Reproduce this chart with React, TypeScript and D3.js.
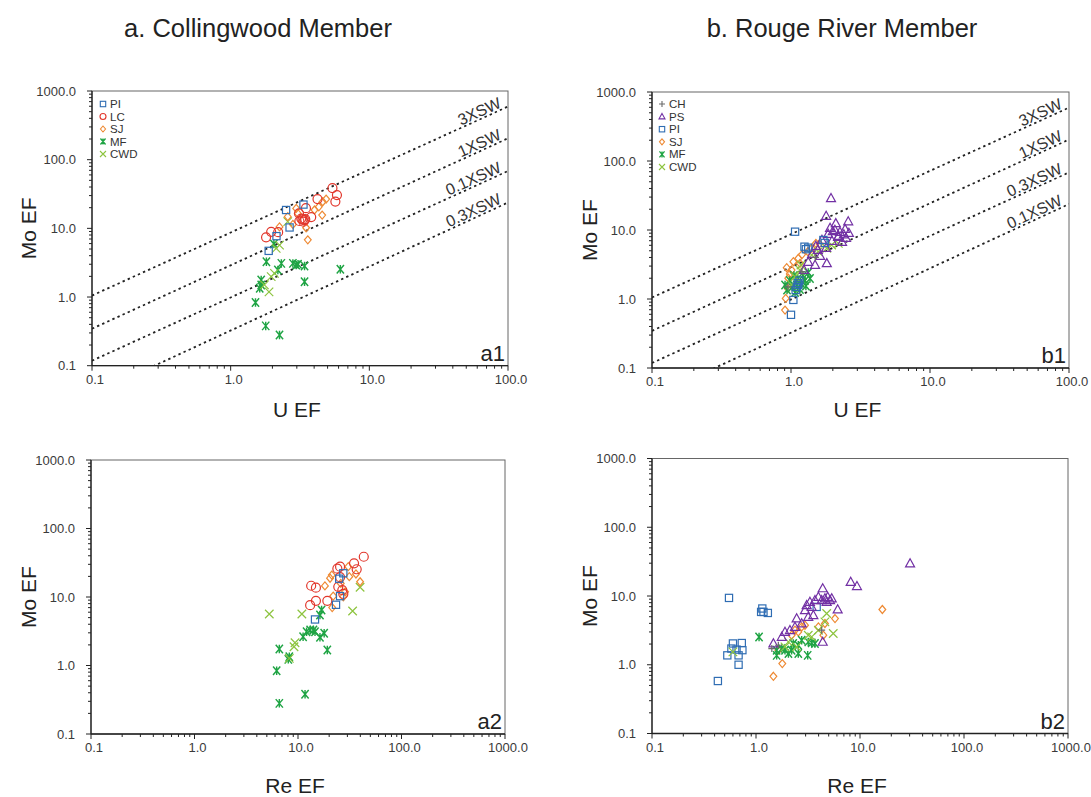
import React from "react";
import * as d3 from "d3";

type Pt = [number, number];

// ---------- text / ticks ----------
const panelTitles = ["a. Collingwood Member", "b. Rouge River Member"];
const uTicks = [0.1, 1, 10, 100];
const reTicks = [0.1, 1, 10, 100, 1000];
const moTicks = [0.1, 1, 10, 100, 1000];

const collingwoodGroups = ["PI", "LC", "SJ", "MF", "CWD"];
const rougeGroups = ["CH", "PS", "PI", "SJ", "MF", "CWD"];

// ---------- seawater reference lines (Mo EF at U EF = 0.1 and U EF = 100) ----------
const swLabelsA = ["3XSW", "1XSW", "0.1XSW", "0.3XSW"];
const swLabelsB = ["3XSW", "1XSW", "0.3XSW", "0.1XSW"];
const swMoAtULow = [1.05, 0.345, 0.118, 0.038];
const swMoAtUHigh = [595, 205, 68.5, 23.8];

// ---------- a1: Collingwood, U EF vs Mo EF ----------
const a1PI: Pt[] = [[2.51, 18.5], [3.35, 22.2], [2.66, 10.3], [2.14, 7.7], [1.88, 4.7]];
const a1LC: Pt[] = [[5.42, 38.6], [5.84, 30.5], [5.69, 24.5], [4.23, 26.7], [3.49, 19.7], [3.11, 16.5], [3.23, 13.9], [3.41, 13.2], [3.81, 14.6], [3.13, 12.8], [3.35, 12.5], [1.96, 8.9], [2.2, 8.8], [1.8, 7.4], [3.45, 13.6], [3.3, 13.5]];
const a1SJ: Pt[] = [[4.88, 26.7], [4.61, 24.4], [4.32, 20.6], [4.02, 18.5], [4.57, 15.6], [3.6, 6.8], [3.5, 10.2], [2.97, 19.5], [3.05, 16.5], [2.58, 14.8], [2.81, 11.4], [2.25, 10.5]];
const a1MF: Pt[] = [[6.18, 2.53], [3.41, 1.67], [3.41, 2.83], [2.97, 2.92], [2.81, 3.09], [3.06, 3.0], [2.32, 3.09], [2.19, 2.47], [1.81, 3.27], [1.66, 1.77], [1.66, 1.5], [1.62, 1.34], [1.51, 0.83], [1.79, 0.38], [2.25, 0.28], [2.05, 5.9]];
const a1CWD: Pt[] = [[1.89, 1.19], [1.96, 1.98], [2.07, 2.21], [2.25, 5.71], [2.13, 5.12], [2.58, 12.5], [1.75, 1.5]];

// ---------- a2: Collingwood, Re EF vs Mo EF ----------
const a2PI: Pt[] = [[14.6, 4.7], [23.3, 7.7], [25.5, 10.3], [25, 18.5], [27.4, 22.2]];
const a2LC: Pt[] = [[43.2, 38.7], [34.8, 31], [36.9, 25.4], [25.5, 27.7], [24, 25.9], [24.5, 14.1], [26.8, 12.6], [27.4, 11.1], [13.4, 14.6], [14.9, 13.7], [19.2, 8.8], [14.9, 8.8], [13.1, 7.6], [25.5, 19.5]];
const a2SJ: Pt[] = [[30.6, 27.7], [36.3, 21.7], [31.3, 19.8], [39.8, 16.7], [21.2, 20.9], [20.4, 18.8], [18.2, 14.5], [21.9, 10.3], [21.4, 7.0], [28.5, 11.9], [27.4, 10.1], [25.9, 15.8]];
const a2MF: Pt[] = [[6.6, 1.74], [6.22, 0.84], [6.6, 0.28], [11.7, 0.38], [8.24, 1.34], [8.06, 1.23], [19.2, 1.68], [16.3, 2.58], [17.9, 2.95], [14.6, 3.11], [13.1, 3.3], [12.1, 3.11], [11.2, 2.63], [16.9, 6.46], [16.3, 5.46], [14.1, 3.3]];
const a2CWD: Pt[] = [[5.28, 5.65], [10.9, 5.65], [33.7, 6.25], [39.8, 13.9], [9.36, 2.15], [9.15, 1.88], [8.24, 1.27]];

// ---------- b1: Rouge River, U EF vs Mo EF ----------
const b1CH: Pt[] = [[1.2, 2.5], [1.5, 4.0], [0.95, 1.5]];
const b1PS: Pt[] = [[1.94, 28.8], [1.79, 16], [2.1, 12.5], [2.58, 13.3], [1.81, 3.29], [1.91, 10.7], [2.07, 10], [2.25, 9.35], [2.45, 10.3], [2.61, 9.05], [1.85, 8.75], [2.18, 7.92], [2.49, 7.66], [1.67, 7.16], [1.97, 6.93], [2.33, 6.7], [1.51, 5.86], [1.79, 5.48], [1.42, 4.49], [1.62, 4.2], [1.33, 3.44], [1.49, 3.11], [1.24, 2.63], [1.56, 5.13], [2.2, 8.2], [2.4, 8.6], [2.0, 9.6]];
const b1PI: Pt[] = [[1.07, 9.45], [1.25, 5.73], [1.33, 5.54], [1.28, 5.27], [1.04, 0.97], [1.0, 0.59], [1.71, 7.16], [1.75, 6.5], [1.1, 1.5], [1.12, 1.7], [1.15, 1.85], [1.08, 1.35], [1.13, 1.6]];
const b1SJ: Pt[] = [[0.906, 0.69], [0.916, 1.02], [0.947, 1.43], [0.956, 2.0], [0.931, 2.84], [1.04, 3.47], [1.13, 3.89], [1.51, 6.41], [1.01, 2.63], [1.16, 3.29], [1.41, 5.43], [1.32, 4.85], [1.2, 4.4], [1.6, 6.3], [0.98, 2.3]];
const b1MF: Pt[] = [[0.936, 1.35], [1.02, 1.49], [1.1, 1.6], [1.18, 1.68], [1.26, 1.85], [1.07, 1.24], [1.16, 1.37], [0.98, 1.85], [1.12, 1.98], [1.22, 2.19], [1.33, 2.42], [0.906, 1.6], [1.37, 1.98], [1.05, 2.19], [1.28, 1.54]];
const b1CWD: Pt[] = [[1.41, 4.34], [1.57, 4.85], [1.96, 6.06], [2.19, 6.4], [1.16, 2.63], [1.07, 2.1], [1.01, 1.6], [1.81, 5.43], [1.18, 3.11]];

// ---------- b2: Rouge River, Re EF vs Mo EF ----------
const b2CH: Pt[] = [[1.42, 1.72], [4.28, 3.18], [1.64, 1.92]];
const b2PS: Pt[] = [[30.3, 29.7], [8.14, 16], [9.35, 13.9], [6.1, 6.36], [4.38, 12.9], [4.38, 2.15], [3.98, 9.7], [4.6, 9.2], [5.15, 8.69], [4.28, 8.69], [4.78, 8.2], [3.69, 8.69], [3.07, 7.35], [3.3, 8.2], [2.96, 6.21], [2.46, 4.7], [3.18, 4.96], [3.56, 5.25], [1.9, 3.0], [1.77, 2.54], [1.47, 2.04], [2.37, 3.55], [2.75, 3.98], [2.12, 3.18], [3.43, 6.94], [4.89, 9.7], [5.35, 9.2]];
const b2PI: Pt[] = [[0.55, 9.38], [1.15, 6.58], [1.18, 5.87], [1.3, 5.67], [1.12, 5.87], [0.43, 0.58], [0.68, 1.0], [0.53, 1.37], [0.6, 2.04], [0.73, 2.07], [0.58, 1.72], [0.65, 1.66], [0.74, 1.63], [0.68, 1.37], [3.83, 6.94]];
const b2SJ: Pt[] = [[16.4, 6.36], [1.47, 0.68], [1.79, 1.04], [5.75, 4.7], [4.44, 2.69], [2.37, 3.18], [2.75, 3.55], [2.55, 3.0], [2.96, 3.76], [3.98, 3.55], [4.6, 3.98], [2.2, 2.69], [1.64, 1.63]];
const b2MF: Pt[] = [[1.07, 2.54], [1.58, 1.37], [2.05, 1.46], [2.55, 1.46], [3.14, 1.37], [3.43, 2.08], [3.18, 2.15], [2.28, 2.04], [1.9, 1.63], [1.77, 1.72], [2.55, 1.92], [1.58, 1.63], [2.75, 2.27], [2.2, 1.63], [3.69, 2.04]];
const b2CWD: Pt[] = [[5.53, 2.85], [4.78, 5.56], [4.6, 4.2], [3.98, 3.18], [3.18, 2.69], [2.46, 1.82], [3.43, 2.54], [1.9, 1.82], [2.05, 2.15], [0.6, 1.54]];

// ---------- styles ----------
const COLORS: Record<string, string> = {
  PI: "#2f6db3",
  LC: "#e2372c",
  SJ: "#ee8a34",
  MF: "#1fa444",
  CWD: "#8dc43f",
  PS: "#7230a4",
  CH: "#6a6a6a",
};
const SHAPES: Record<string, string> = {
  PI: "square",
  LC: "circle",
  SJ: "diamond",
  MF: "star",
  CWD: "x",
  PS: "triangle",
  CH: "plus",
};
const FONT = "'Liberation Sans', Arial, Helvetica, sans-serif";

function Marker({ shape, x, y, s, color, sw }: { shape: string; x: number; y: number; s: number; color: string; sw: number }) {
  const h = s / 2;
  const common = { fill: "none", stroke: color, strokeWidth: sw };
  switch (shape) {
    case "square":
      return <rect x={x - h * 0.9} y={y - h * 0.9} width={s * 0.9} height={s * 0.9} {...common} />;
    case "circle":
      return <circle cx={x} cy={y} r={h} {...common} />;
    case "diamond":
      return <path d={`M${x},${y - h}L${x + h * 0.85},${y}L${x},${y + h}L${x - h * 0.85},${y}Z`} {...common} />;
    case "triangle":
      return <path d={`M${x},${y - h * 1.05}L${x + h},${y + h * 0.75}L${x - h},${y + h * 0.75}Z`} {...common} />;
    case "x":
      return <path d={`M${x - h},${y - h}L${x + h},${y + h}M${x + h},${y - h}L${x - h},${y + h}`} {...common} />;
    case "star":
      return <path d={`M${x - h * 0.85},${y - h}L${x + h * 0.85},${y + h}M${x + h * 0.85},${y - h}L${x - h * 0.85},${y + h}M${x},${y - h}L${x},${y + h}`} {...common} strokeWidth={sw * 1.2} />;
    case "plus":
      return <path d={`M${x - h},${y}L${x + h},${y}M${x},${y - h}L${x},${y + h}`} {...common} />;
    default:
      return null;
  }
}

const MARKER_SIZE: Record<string, number> = { square: 8, circle: 9, diamond: 8, triangle: 9, x: 8.5, star: 8.5, plus: 7 };

type Series = { name: string; pts: Pt[] };
type PanelCfg = {
  id: string;
  tag: string;
  xDomain: [number, number];
  xTicks: number[];
  xRange: [number, number];
  yRange: [number, number];
  series: Series[];
  swLabels?: string[];
  legend?: { names: string[]; x: number; y0: number; dy: number };
  xTitle: string;
  xTitleY: number;
  yTitleX: number;
};

function textWidth16(s: string) {
  let w = 0;
  for (const c of s) {
    if (c === ".") w += 4.45;
    else if (/[0-9]/.test(c)) w += 8.9;
    else if (c === "W") w += 15.1;
    else w += 10.7;
  }
  return w;
}

function minorTicks(dom: [number, number]) {
  const out: number[] = [];
  const lo = Math.round(Math.log10(dom[0]));
  const hi = Math.round(Math.log10(dom[1]));
  for (let e = lo; e < hi; e++) {
    for (let k = 2; k <= 9; k++) out.push(k * Math.pow(10, e));
  }
  return out;
}

function Panel({ cfg }: { cfg: PanelCfg }) {
  const x = d3.scaleLog().domain(cfg.xDomain).range(cfg.xRange);
  const y = d3.scaleLog().domain([0.1, 1000]).range(cfg.yRange);
  const [l, r] = cfg.xRange;
  const [b, t] = cfg.yRange;
  const fmt = d3.format(".1f");
  const xMinor = minorTicks(cfg.xDomain);
  const yMinor = minorTicks([0.1, 1000]);
  const line = d3.line<Pt>().x((d) => x(d[0])).y((d) => y(d[1]));
  const clipId = `clip-${cfg.id}`;

  const swEls: React.ReactNode[] = [];
  if (cfg.swLabels) {
    cfg.swLabels.forEach((lab, i) => {
      const p0: Pt = [0.1, swMoAtULow[i]];
      const p1: Pt = [100, swMoAtUHigh[i]];
      const slope = (Math.log10(p1[1]) - Math.log10(p0[1])) / 3;
      const ax = r - 5;
      const au = x.invert(ax);
      const amo = Math.pow(10, Math.log10(p0[1]) + (Math.log10(au) + 1) * slope);
      const ay = y(amo);
      const ang = (Math.atan2(y(p1[1]) - y(p0[1]), x(p1[0]) - x(p0[0])) * 180) / Math.PI;
      const w = textWidth16(lab);
      swEls.push(
        <g key={`sw${i}`}>
          <path d={line([p0, p1]) || ""} fill="none" stroke="#222" strokeWidth={1.8} strokeDasharray="2.4 3.2" clipPath={`url(#${clipId})`} />
          <g transform={`translate(${ax},${ay}) rotate(${ang})`}>
            <rect x={-w - 2} y={-14} width={w + 4} height={13} fill="#fff" />
            <text x={0} y={-2} textAnchor="end" fontSize={16} fontFamily={FONT} fill="#333">
              {lab}
            </text>
          </g>
        </g>
      );
    });
  }

  return (
    <g>
      <defs>
        <clipPath id={clipId}>
          <rect x={l} y={t} width={r - l} height={b - t} />
        </clipPath>
      </defs>
      <rect x={l} y={t} width={r - l} height={b - t} fill="#fff" stroke="#666" strokeWidth={1} />
      {swEls}
      {/* axes */}
      <line x1={l} x2={r} y1={b} y2={b} stroke="#222" strokeWidth={1.3} />
      <line x1={l} x2={l} y1={b} y2={t} stroke="#222" strokeWidth={1.3} />
      {cfg.xTicks.map((v) => (
        <line key={`xM${v}`} x1={x(v)} x2={x(v)} y1={b} y2={b + 5} stroke="#222" strokeWidth={1} />
      ))}
      {xMinor.map((v, i) => (
        <line key={`xm${i}`} x1={x(v)} x2={x(v)} y1={b} y2={b + 3} stroke="#222" strokeWidth={1} />
      ))}
      {moTicks.map((v) => (
        <line key={`yM${v}`} x1={l - 5} x2={l} y1={y(v)} y2={y(v)} stroke="#222" strokeWidth={1} />
      ))}
      {yMinor.map((v, i) => (
        <line key={`ym${i}`} x1={l - 3} x2={l} y1={y(v)} y2={y(v)} stroke="#222" strokeWidth={1} />
      ))}
      {cfg.xTicks.map((v) => (
        <text key={`xl${v}`} x={x(v) + 3} y={b + 18} textAnchor="middle" fontSize={13} fontFamily={FONT} fill="#3a3a3a">
          {fmt(v)}
        </text>
      ))}
      {moTicks.map((v) => (
        <text key={`yl${v}`} x={l - 16} y={y(v) + 4.5} textAnchor="end" fontSize={13} fontFamily={FONT} fill="#3a3a3a">
          {fmt(v)}
        </text>
      ))}
      {/* data */}
      <g clipPath={`url(#${clipId})`}>
        {cfg.series.map((s) =>
          s.pts.map((p, i) => (
            <Marker key={`${s.name}${i}`} shape={SHAPES[s.name]} x={x(p[0])} y={y(p[1])} s={MARKER_SIZE[SHAPES[s.name]]} color={COLORS[s.name]} sw={1.2} />
          ))
        )}
      </g>
      {/* legend */}
      {cfg.legend &&
        cfg.legend.names.map((n, i) => {
          const ly = cfg.legend!.y0 + i * cfg.legend!.dy;
          return (
            <g key={`lg${n}`}>
              <Marker shape={SHAPES[n]} x={cfg.legend!.x} y={ly} s={6} color={COLORS[n]} sw={1.1} />
              <text x={cfg.legend!.x + 7} y={ly + 4} fontSize={11.5} fontFamily={FONT} fill="#333">
                {n}
              </text>
            </g>
          );
        })}
      <text x={r - 3} y={b - 5} textAnchor="end" fontSize={22} fontFamily={FONT} fill="#222">
        {cfg.tag}
      </text>
      <text x={(l + r) / 2 - 3} y={cfg.xTitleY} textAnchor="middle" fontSize={21} fontFamily={FONT} fill="#222">
        {cfg.xTitle}
      </text>
      <text transform={`translate(${cfg.yTitleX},${(t + b) / 2}) rotate(-90)`} textAnchor="middle" fontSize={21} fontFamily={FONT} fill="#222">
        Mo EF
      </text>
    </g>
  );
}

const panels: PanelCfg[] = [
  {
    id: "a1",
    tag: "a1",
    xDomain: [0.1, 100],
    xTicks: uTicks,
    xRange: [92, 508],
    yRange: [365.7, 91],
    series: [
      { name: "MF", pts: a1MF },
      { name: "CWD", pts: a1CWD },
      { name: "SJ", pts: a1SJ },
      { name: "LC", pts: a1LC },
      { name: "PI", pts: a1PI },
    ],
    swLabels: swLabelsA,
    legend: { names: collingwoodGroups, x: 103, y0: 104, dy: 12.5 },
    xTitle: "U EF",
    xTitleY: 417,
    yTitleX: 36,
  },
  {
    id: "b1",
    tag: "b1",
    xDomain: [0.1, 100],
    xTicks: uTicks,
    xRange: [652, 1069],
    yRange: [368, 92],
    series: [
      { name: "SJ", pts: b1SJ },
      { name: "MF", pts: b1MF },
      { name: "CWD", pts: b1CWD },
      { name: "PS", pts: b1PS },
      { name: "PI", pts: b1PI },
      { name: "CH", pts: b1CH },
    ],
    swLabels: swLabelsB,
    legend: { names: rougeGroups, x: 662, y0: 104, dy: 12.6 },
    xTitle: "U EF",
    xTitleY: 417,
    yTitleX: 597,
  },
  {
    id: "a2",
    tag: "a2",
    xDomain: [0.1, 1000],
    xTicks: reTicks,
    xRange: [91, 505],
    yRange: [734, 460],
    series: [
      { name: "MF", pts: a2MF },
      { name: "CWD", pts: a2CWD },
      { name: "SJ", pts: a2SJ },
      { name: "LC", pts: a2LC },
      { name: "PI", pts: a2PI },
    ],
    xTitle: "Re EF",
    xTitleY: 793,
    yTitleX: 36,
  },
  {
    id: "b2",
    tag: "b2",
    xDomain: [0.1, 1000],
    xTicks: reTicks,
    xRange: [652, 1068],
    yRange: [733.5, 458.5],
    series: [
      { name: "PI", pts: b2PI },
      { name: "SJ", pts: b2SJ },
      { name: "MF", pts: b2MF },
      { name: "CWD", pts: b2CWD },
      { name: "PS", pts: b2PS },
      { name: "CH", pts: b2CH },
    ],
    xTitle: "Re EF",
    xTitleY: 793,
    yTitleX: 597,
  },
];

export default function App() {
  return (
    <svg
      width={1091}
      height={797}
      viewBox="0 0 1091 797"
      style={{ position: "absolute", left: 0, top: 0, display: "block", background: "#fff" }}
    >
      <rect x={0} y={0} width={1091} height={797} fill="#fff" />
      <text x={258} y={37} textAnchor="middle" fontSize={25.5} fontFamily={FONT} fill="#222">
        {panelTitles[0]}
      </text>
      <text x={842} y={37} textAnchor="middle" fontSize={25.5} fontFamily={FONT} fill="#222">
        {panelTitles[1]}
      </text>
      {panels.map((p) => (
        <Panel key={p.id} cfg={p} />
      ))}
    </svg>
  );
}
